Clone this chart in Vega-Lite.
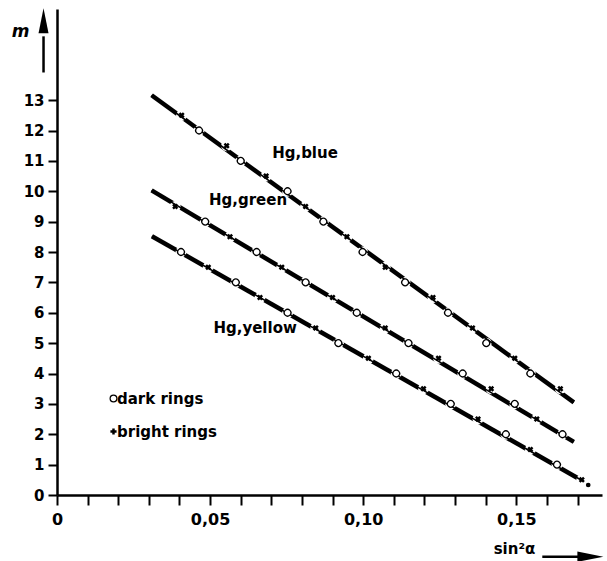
{
  "$schema": "https://vega.github.io/schema/vega-lite/v6.json",
  "width": 545,
  "height": 486,
  "autosize": {"type": "none"},
  "padding": {"left": 57, "top": 9, "right": 5, "bottom": 66},
  "background": "white",
  "config": {"view": {"stroke": null}, "font": "DejaVu Sans"},
  "datasets": {
    "pts": [
      {"s": "blue", "x": 0.0309, "m": 13.16, "ring": "end"},
      {"s": "blue", "x": 0.0407, "m": 12.5, "ring": "bright rings"},
      {"s": "blue", "x": 0.0464, "m": 12, "ring": "dark rings"},
      {"s": "blue", "x": 0.0554, "m": 11.5, "ring": "bright rings"},
      {"s": "blue", "x": 0.0600, "m": 11, "ring": "dark rings"},
      {"s": "blue", "x": 0.0683, "m": 10.5, "ring": "bright rings"},
      {"s": "blue", "x": 0.0753, "m": 10, "ring": "dark rings"},
      {"s": "blue", "x": 0.0812, "m": 9.5, "ring": "bright rings"},
      {"s": "blue", "x": 0.0870, "m": 9, "ring": "dark rings"},
      {"s": "blue", "x": 0.0947, "m": 8.5, "ring": "bright rings"},
      {"s": "blue", "x": 0.0998, "m": 8, "ring": "dark rings"},
      {"s": "blue", "x": 0.1072, "m": 7.5, "ring": "bright rings"},
      {"s": "blue", "x": 0.1137, "m": 7, "ring": "dark rings"},
      {"s": "blue", "x": 0.1228, "m": 6.5, "ring": "bright rings"},
      {"s": "blue", "x": 0.1277, "m": 6, "ring": "dark rings"},
      {"s": "blue", "x": 0.1357, "m": 5.5, "ring": "bright rings"},
      {"s": "blue", "x": 0.1402, "m": 5, "ring": "dark rings"},
      {"s": "blue", "x": 0.1495, "m": 4.5, "ring": "bright rings"},
      {"s": "blue", "x": 0.1546, "m": 4, "ring": "dark rings"},
      {"s": "blue", "x": 0.1644, "m": 3.5, "ring": "bright rings"},
      {"s": "blue", "x": 0.1688, "m": 3.05, "ring": "end"},
      {"s": "green", "x": 0.0309, "m": 10.03, "ring": "end"},
      {"s": "green", "x": 0.0386, "m": 9.5, "ring": "bright rings"},
      {"s": "green", "x": 0.0484, "m": 9, "ring": "dark rings"},
      {"s": "green", "x": 0.0565, "m": 8.5, "ring": "bright rings"},
      {"s": "green", "x": 0.0652, "m": 8, "ring": "dark rings"},
      {"s": "green", "x": 0.0734, "m": 7.5, "ring": "bright rings"},
      {"s": "green", "x": 0.0812, "m": 7, "ring": "dark rings"},
      {"s": "green", "x": 0.0900, "m": 6.5, "ring": "bright rings"},
      {"s": "green", "x": 0.0979, "m": 6, "ring": "dark rings"},
      {"s": "green", "x": 0.1072, "m": 5.5, "ring": "bright rings"},
      {"s": "green", "x": 0.1148, "m": 5, "ring": "dark rings"},
      {"s": "green", "x": 0.1246, "m": 4.5, "ring": "bright rings"},
      {"s": "green", "x": 0.1325, "m": 4, "ring": "dark rings"},
      {"s": "green", "x": 0.1418, "m": 3.5, "ring": "bright rings"},
      {"s": "green", "x": 0.1495, "m": 3, "ring": "dark rings"},
      {"s": "green", "x": 0.1567, "m": 2.5, "ring": "bright rings"},
      {"s": "green", "x": 0.1651, "m": 2, "ring": "dark rings"},
      {"s": "green", "x": 0.1688, "m": 1.75, "ring": "end"},
      {"s": "yellow", "x": 0.0310, "m": 8.52, "ring": "end"},
      {"s": "yellow", "x": 0.0405, "m": 8, "ring": "dark rings"},
      {"s": "yellow", "x": 0.0494, "m": 7.5, "ring": "bright rings"},
      {"s": "yellow", "x": 0.0584, "m": 7, "ring": "dark rings"},
      {"s": "yellow", "x": 0.0663, "m": 6.5, "ring": "bright rings"},
      {"s": "yellow", "x": 0.0753, "m": 6, "ring": "dark rings"},
      {"s": "yellow", "x": 0.0845, "m": 5.5, "ring": "bright rings"},
      {"s": "yellow", "x": 0.0919, "m": 5, "ring": "dark rings"},
      {"s": "yellow", "x": 0.1017, "m": 4.5, "ring": "bright rings"},
      {"s": "yellow", "x": 0.1108, "m": 4, "ring": "dark rings"},
      {"s": "yellow", "x": 0.1197, "m": 3.5, "ring": "bright rings"},
      {"s": "yellow", "x": 0.1286, "m": 3, "ring": "dark rings"},
      {"s": "yellow", "x": 0.1375, "m": 2.5, "ring": "bright rings"},
      {"s": "yellow", "x": 0.1466, "m": 2, "ring": "dark rings"},
      {"s": "yellow", "x": 0.1546, "m": 1.5, "ring": "bright rings"},
      {"s": "yellow", "x": 0.1633, "m": 1, "ring": "dark rings"},
      {"s": "yellow", "x": 0.1714, "m": 0.5, "ring": "bright rings"},
      {"s": "yellow", "x": 0.1716, "m": 0.47, "ring": "end"},
      {"s": "yellow", "x": 0.1735, "m": 0.33, "ring": "dot"}
    ],
    "lbl": [
      {"label": "Hg,blue", "x": 0.0810, "m": 11.25},
      {"label": "Hg,green", "x": 0.0624, "m": 9.70},
      {"label": "Hg,yellow", "x": 0.0647, "m": 5.49}
    ]
  },
  "encoding": {
    "x": {
      "field": "x", "type": "quantitative",
      "scale": {"domain": [0, 0.178], "nice": false, "zero": false},
      "axis": {
        "values": [0, 0.01, 0.02, 0.03, 0.04, 0.05, 0.06, 0.07, 0.08, 0.09, 0.1, 0.11, 0.12, 0.13, 0.14, 0.15, 0.16, 0.17],
        "labelExpr": "round(datum.value*100) % 5 == 0 ? (datum.value == 0 ? '0' : replace(format(datum.value, '.2f'), '.', ',')) : ''",
        "grid": false, "domainColor": "black", "domainWidth": 2.5,
        "tickColor": "black", "tickWidth": 2, "tickSize": 10,
        "labelFont": "DejaVu Sans", "labelFontWeight": "bold", "labelFontSize": 16,
        "labelColor": "black", "labelPadding": 6, "labelFlush": false, "labelOverlap": false,
        "title": "sin²α", "titleFont": "DejaVu Sans", "titleFontWeight": "bold", "titleFontSize": 15,
        "titleColor": "black", "titleX": 457, "titleY": 53, "titleAlign": "center", "titleBaseline": "middle"
      }
    },
    "y": {
      "field": "m", "type": "quantitative",
      "scale": {"domain": [0, 16], "nice": false, "zero": false},
      "axis": {
        "values": [0, 1, 2, 3, 4, 5, 6, 7, 8, 9, 10, 11, 12, 13],
        "grid": false, "domainColor": "black", "domainWidth": 2.5,
        "tickColor": "black", "tickWidth": 2, "tickSize": 9,
        "labelFont": "DejaVu Sans", "labelFontWeight": "bold", "labelFontSize": 15,
        "labelColor": "black", "labelPadding": 4, "labelFlush": false, "labelOverlap": false,
        "title": "m", "titleFont": "DejaVu Sans", "titleFontWeight": "bold", "titleFontStyle": "italic",
        "titleFontSize": 17, "titleColor": "black", "titleAngle": 0,
        "titleX": -37, "titleY": 22, "titleAlign": "center", "titleBaseline": "middle"
      }
    }
  },
  "layer": [
    {
      "data": {"name": "pts"},
      "transform": [{"filter": "datum.ring == 'end'"}],
      "mark": {"type": "line", "color": "black", "strokeWidth": 4.5, "strokeCap": "butt"},
      "encoding": {"detail": {"field": "s"}}
    },
    {
      "data": {"name": "pts"},
      "transform": [{"filter": "datum.ring == 'dark rings' || datum.ring == 'bright rings'"}],
      "mark": {"type": "point", "shape": "circle", "filled": true, "fill": "white", "strokeWidth": 0, "size": 120, "opacity": 1}
    },
    {
      "data": {"name": "pts"},
      "transform": [{"filter": "datum.ring == 'end'"}],
      "mark": {"type": "line", "color": "black", "strokeWidth": 1.6},
      "encoding": {"detail": {"field": "s"}}
    },
    {
      "data": {"name": "pts"},
      "transform": [{"filter": "datum.ring == 'dark rings' || datum.ring == 'bright rings'"}],
      "mark": {"type": "point", "filled": true, "stroke": "black", "angle": 45, "opacity": 1},
      "encoding": {
        "shape": {
          "field": "ring", "type": "nominal",
          "scale": {"domain": ["dark rings", "bright rings"], "range": ["circle", "cross"]},
          "legend": {
            "orient": "none", "legendX": 49, "legendY": 382, "title": null,
            "labelFont": "DejaVu Sans", "labelFontWeight": "bold", "labelFontSize": 15, "labelColor": "black",
            "rowPadding": 17, "labelOffset": -4,
            "encode": {"symbols": {"update": {"angle": {"value": 45}, "stroke": {"value": "black"}}}}
          }
        },
        "fill": {
          "field": "ring", "type": "nominal",
          "scale": {"domain": ["dark rings", "bright rings"], "range": ["white", "black"]},
          "legend": {
            "orient": "none", "legendX": 49, "legendY": 382, "title": null,
            "labelFont": "DejaVu Sans", "labelFontWeight": "bold", "labelFontSize": 15, "labelColor": "black",
            "rowPadding": 17, "labelOffset": -4
          }
        },
        "size": {
          "field": "ring", "type": "nominal",
          "scale": {"type": "ordinal", "domain": ["dark rings", "bright rings"], "range": [46, 38]},
          "legend": {
            "orient": "none", "legendX": 49, "legendY": 382, "title": null,
            "labelFont": "DejaVu Sans", "labelFontWeight": "bold", "labelFontSize": 15, "labelColor": "black",
            "rowPadding": 17, "labelOffset": -4
          }
        },
        "strokeWidth": {
          "field": "ring", "type": "nominal",
          "scale": {"type": "ordinal", "domain": ["dark rings", "bright rings"], "range": [1.2, 0]},
          "legend": {
            "orient": "none", "legendX": 49, "legendY": 382, "title": null,
            "labelFont": "DejaVu Sans", "labelFontWeight": "bold", "labelFontSize": 15, "labelColor": "black",
            "rowPadding": 17, "labelOffset": -4
          }
        }
      }
    },
    {
      "data": {"name": "pts"},
      "transform": [{"filter": "datum.ring == 'dot'"}],
      "mark": {"type": "point", "shape": "circle", "filled": true, "color": "black", "size": 22, "opacity": 1}
    },
    {
      "data": {"name": "lbl"},
      "mark": {"type": "text", "font": "DejaVu Sans", "fontWeight": "bold", "fontSize": 15, "color": "black", "align": "center", "baseline": "middle"},
      "encoding": {"text": {"field": "label"}}
    },
    {
      "data": {"values": [{"x": -0.0044, "m": 13.91, "m2": 15.1}]},
      "mark": {"type": "rule", "color": "black", "strokeWidth": 2.5},
      "encoding": {"y2": {"field": "m2"}}
    },
    {
      "data": {"values": [{"x": -0.0044, "m": 15.61}]},
      "mark": {"type": "point", "shape": "M0,-1L0.4,1L-0.4,1Z", "filled": true, "color": "black", "size": 625, "opacity": 1}
    },
    {
      "data": {"values": [{"x": 0.1585, "x2": 0.172, "m": -2.03}]},
      "mark": {"type": "rule", "color": "black", "strokeWidth": 2.5},
      "encoding": {"x2": {"field": "x2"}}
    },
    {
      "data": {"values": [{"x": 0.1742, "m": -2.03}]},
      "mark": {"type": "point", "shape": "M1,0L-1,-0.4L-1,0.4Z", "filled": true, "color": "black", "size": 676, "opacity": 1}
    }
  ]
}
